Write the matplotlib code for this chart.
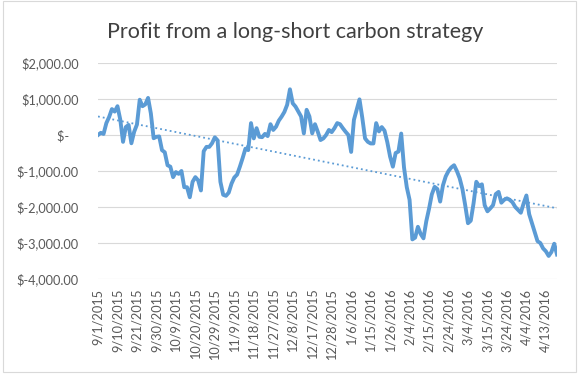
import numpy as np
import pandas as pd
import matplotlib
matplotlib.use('Agg')
import matplotlib.pyplot as plt
from matplotlib.patches import Rectangle
from matplotlib.ticker import FuncFormatter

plt.rcParams['font.family'] = ['Lato', 'DejaVu Sans']

# weekday trading dates, 9/1/2015 .. 4/19/2016
dates = pd.bdate_range('2015-09-01', '2016-04-19')

profit = [
    0, 60, 30, 330, 500, 720, 650, 800, 430, -190,
    220, 280, -230, 90, 290, 980, 800, 850, 1030, 600,
    -90, -50, -40, -420, -480, -840, -880, -1170, -1030, -1080,
    -1000, -1450, -1450, -1730, -1300, -1170, -1260, -1540, -450, -330,
    -330, -230, -65, -150, -1300, -1660, -1690, -1600, -1350, -1180,
    -1100, -880, -640, -380, -420, 330, -95, 190, -50, -60,
    30, -30, 300, 140, 230, 400, 510, 640, 840, 1270,
    880, 790, 650, 515, 45, 700, 515, 45, 300, 90,
    -140, -95, 0, 140, 80, 190, 330, 300, 190, 90,
    0, -470, 420, 700, 990, 480, -95, -190, -235, -235,
    330, 100, 220, 120, -200, -600, -880, -500, -460, 40,
    -900, -1450, -1800, -2900, -2850, -2550, -2750, -2870, -2400, -2050,
    -1650, -1440, -1500, -1850, -1400, -1150, -1000, -900, -840, -1000,
    -1200, -1500, -1950, -2450, -2380, -1900, -1300, -1420, -1370, -1950,
    -2120, -2040, -1950, -1640, -1580, -1880, -1800, -1760, -1800, -1870,
    -2000, -2080, -2160, -1900, -1680, -2200, -2450, -2700, -2950, -3000,
    -3150, -3230, -3360, -3250, -3020, -3320,
]

labels = [f"{d.month}/{d.day}/{d.year}" for d in dates]
blue = '#5b9bd5'
grey_txt = '#595959'


def money(v, pos):
    if v == 0:
        return '$-   '
    if v < 0:
        return f'$-{abs(v):,.2f}'
    return f'${v:,.2f}'


fig = plt.figure(figsize=(5.78, 3.76), dpi=100)
fig.patches.append(Rectangle((2.5 / 578, 4 / 376), 573.5 / 578, 371 / 376,
                             transform=fig.transFigure, fill=False,
                             edgecolor='#d9d9d9', lw=0.8))

ax = fig.add_axes([98 / 578, 1 - 279 / 376, 459 / 578, 216 / 376])
x = np.arange(len(profit))
ax.plot(x, profit, color=blue, lw=2.8, solid_joinstyle='round', zorder=3)

# linear trendline
slope, icpt = np.polyfit(x, profit, 1)
ax.plot(x, slope * x + icpt, color=blue, lw=1.3, linestyle=(0, (1, 1.7)), zorder=2)

ax.set_xlim(0, len(profit) - 1)
ax.set_ylim(-4000, 2000)
ax.set_yticks(range(-4000, 2001, 1000))
ax.yaxis.set_major_formatter(FuncFormatter(money))
ax.set_xticks(x[::7])
ax.set_xticklabels(labels[::7], rotation=90)
ax.grid(axis='y', color='#d9d9d9', lw=0.8)
ax.set_axisbelow(True)
for s in ax.spines.values():
    s.set_visible(False)
ax.tick_params(length=0, colors=grey_txt, labelsize=9.2)
ax.tick_params(axis='y', pad=14)
ax.tick_params(axis='x', pad=7)

fig.text(0.511, 1 - 38 / 376, 'Profit from a long-short carbon strategy',
         ha='center', va='baseline', fontsize=15.5, color='#404040')

fig.savefig('out.png', dpi=100)
